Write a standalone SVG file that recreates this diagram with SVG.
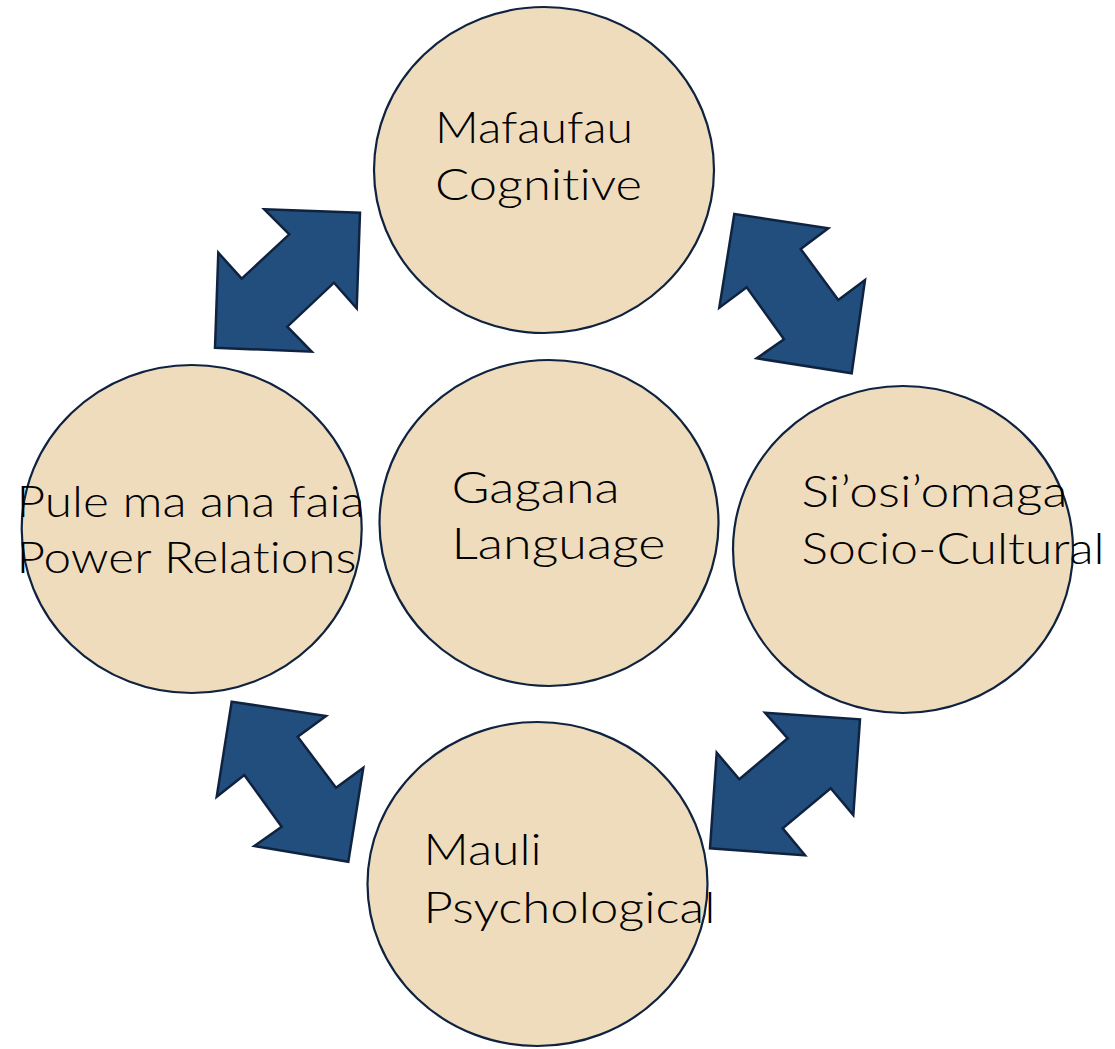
<svg xmlns="http://www.w3.org/2000/svg" width="1115" height="1049" viewBox="0 0 1115 1049">
<style>
.node ellipse{fill:#EFDCBC;stroke:#0F2340;stroke-width:2.2}
.node text{font-family:Lato,"Open Sans","Liberation Sans",sans-serif;font-size:44px;font-weight:300;font-variant-ligatures:none;fill:#000}
.arrow{fill:#224E7E;stroke:#0F2340;stroke-width:2.5;stroke-linejoin:miter}
</style>
<rect width="1115" height="1049" fill="#fff"/>
<g id="connectors">
<polygon class="arrow" points="264.3,209.3 360,212.7 356.7,308.3 334,282.7 287.3,326.7 311.7,351.7 215,347.7 218.3,252.7 241.7,278.7 289.3,234.3"/>
<polygon class="arrow" points="734.3,214 828.3,228.3 800.7,249 838.3,300 865,280 851.7,373.3 756.7,358.3 784,339.3 746.7,287.3 719.3,307.7"/>
<polygon class="arrow" points="231.7,701.7 326,716 297.7,736.7 336,787.7 363.3,767.7 348.3,861.7 254.3,846 281.7,826.7 244.3,775 216.7,796.7"/>
<polygon class="arrow" points="765,712.7 860,719.3 853.3,815 830.7,788.3 782.7,828.3 805,855.3 710,848.3 716.7,752.7 739.3,779.3 787.7,738.3"/>
</g>
<g id="node-mafaufau" class="node">
<ellipse cx="544" cy="170" rx="170" ry="163"/>
<text x="435" y="143" textLength="198" lengthAdjust="spacingAndGlyphs">Mafaufau</text>
<text x="435" y="200" textLength="207" lengthAdjust="spacingAndGlyphs">Cognitive</text>
</g>
<g id="node-gagana" class="node">
<ellipse cx="549" cy="523" rx="169.5" ry="163"/>
<text x="451.5" y="502.5" textLength="168" lengthAdjust="spacingAndGlyphs">Gagana</text>
<text x="451.5" y="559" textLength="214" lengthAdjust="spacingAndGlyphs">Language</text>
</g>
<g id="node-pule" class="node">
<ellipse cx="191.7" cy="529" rx="170" ry="164"/>
<text x="16.5" y="516.5" textLength="348" lengthAdjust="spacingAndGlyphs">Pule ma ana faia</text>
<text x="16.5" y="573" textLength="340" lengthAdjust="spacingAndGlyphs">Power Relations</text>
</g>
<g id="node-siosiomaga" class="node">
<ellipse cx="903" cy="549.5" rx="170" ry="163.5"/>
<text x="801.5" y="506.5" textLength="266" lengthAdjust="spacingAndGlyphs">Si’osi’omaga</text>
<text x="801.5" y="563.5" textLength="303" lengthAdjust="spacingAndGlyphs">Socio-Cultural</text>
</g>
<g id="node-mauli" class="node">
<ellipse cx="537.5" cy="884" rx="170" ry="162"/>
<text x="423.5" y="865" textLength="118" lengthAdjust="spacingAndGlyphs">Mauli</text>
<text x="423.5" y="923" textLength="292" lengthAdjust="spacingAndGlyphs">Psychological</text>
</g>
</svg>
